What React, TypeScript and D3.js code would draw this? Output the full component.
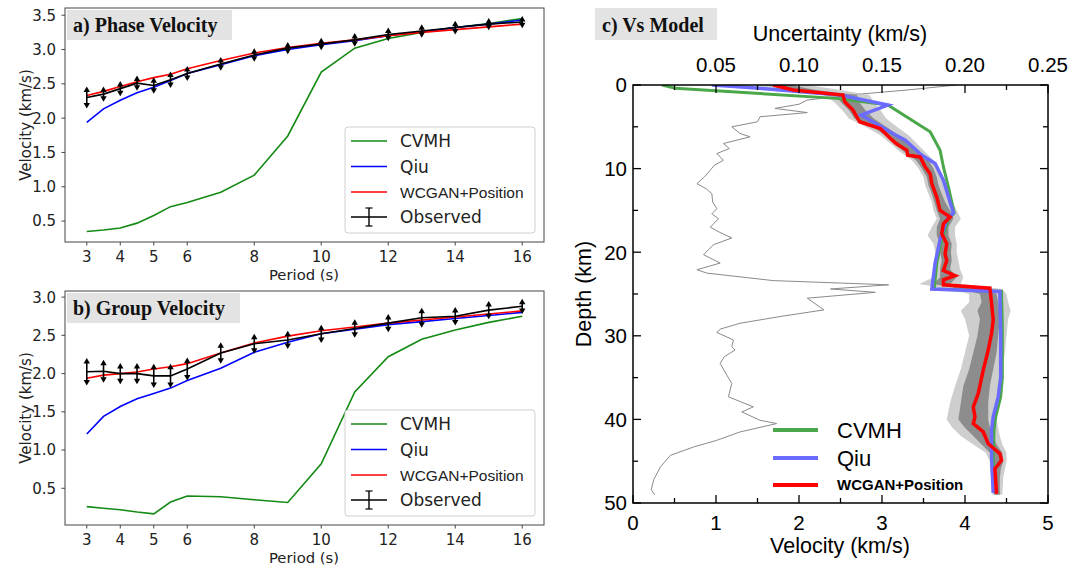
import React from 'react';
import * as d3 from 'd3';

// ---------- Panels a & b data ----------
const periods = [3, 3.5, 4, 4.5, 5, 5.5, 6, 7, 8, 9, 10, 11, 12, 13, 14, 15, 16];
const periodTicks = [3, 4, 5, 6, 8, 10, 12, 14, 16];

const phaseObs = [2.30, 2.35, 2.43, 2.51, 2.475, 2.56, 2.65, 2.79, 2.92, 3.02, 3.08, 3.14, 3.22, 3.27, 3.32, 3.37, 3.40];
const phaseErr = [0.16, 0.11, 0.11, 0.11, 0.12, 0.12, 0.11, 0.1, 0.1, 0.09, 0.09, 0.1, 0.1, 0.1, 0.1, 0.09, 0.09];
const phaseWcgan = [2.33, 2.39, 2.46, 2.53, 2.59, 2.64, 2.72, 2.84, 2.95, 3.03, 3.09, 3.14, 3.2, 3.25, 3.29, 3.33, 3.37];
const phaseQiu = [1.94, 2.135, 2.26, 2.37, 2.45, 2.55, 2.65, 2.78, 2.91, 3.0, 3.07, 3.13, 3.2, 3.26, 3.32, 3.37, 3.43];
const phaseCvmh = [0.347, 0.37, 0.40, 0.47, 0.58, 0.71, 0.77, 0.92, 1.17, 1.74, 2.67, 3.02, 3.16, 3.25, 3.32, 3.38, 3.45];
const phaseTicks = [0.5, 1.0, 1.5, 2.0, 2.5, 3.0, 3.5];

const groupObs = [2.025, 2.03, 2.0, 2.0, 1.97, 1.97, 2.06, 2.27, 2.39, 2.44, 2.52, 2.59, 2.66, 2.73, 2.75, 2.83, 2.88];
const groupErr = [0.18, 0.15, 0.14, 0.14, 0.16, 0.16, 0.15, 0.14, 0.13, 0.12, 0.12, 0.12, 0.12, 0.13, 0.12, 0.12, 0.1];
const groupWcgan = [1.94, 1.98, 2.0, 2.02, 2.06, 2.09, 2.13, 2.27, 2.40, 2.49, 2.56, 2.61, 2.66, 2.70, 2.74, 2.78, 2.82];
const groupQiu = [1.21, 1.44, 1.57, 1.67, 1.74, 1.81, 1.91, 2.07, 2.28, 2.41, 2.52, 2.58, 2.64, 2.68, 2.72, 2.76, 2.80];
const groupCvmh = [0.26, 0.24, 0.22, 0.19, 0.165, 0.32, 0.40, 0.39, 0.35, 0.315, 0.82, 1.76, 2.22, 2.45, 2.57, 2.67, 2.75];
const groupTicks = [0.5, 1.0, 1.5, 2.0, 2.5, 3.0];

// ---------- Panel c data: [depth km, velocity km/s] ----------
const cvmhVs = [[0, 0.35], [0.4, 0.51], [1.6, 2.45], [2.4, 3.07], [5.6, 3.58], [7.8, 3.70], [9.8, 3.74], [12.2, 3.8], [15.3, 3.87], [16.1, 3.8], [18.5, 3.72], [21.3, 3.66], [24.4, 3.63], [24.7, 4.44], [29, 4.45], [35, 4.45], [37.3, 4.43], [39.7, 4.37], [41.3, 4.35], [44.5, 4.34], [48.8, 4.36]];
const qiuVs = [[0, 0.95], [0.4, 1.53], [1.2, 2.49], [2.4, 3.07], [3.6, 2.75], [5.8, 3.13], [6.6, 3.28], [8.4, 3.48], [9.4, 3.64], [11.4, 3.74], [15.3, 3.86], [16.1, 3.78], [18.5, 3.70], [21.3, 3.64], [24.4, 3.60], [24.7, 4.42], [29.3, 4.43], [35, 4.43], [37.3, 4.40], [39.7, 4.34], [41.3, 4.32], [44.5, 4.32], [48.8, 4.34]];
const wcganVs = [[0, 1.69], [0.6, 1.93], [1.2, 2.53], [2.0, 2.55], [3.0, 2.65], [4.4, 2.73], [5.2, 2.98], [6.2, 3.08], [7.0, 3.17], [7.8, 3.30], [8.4, 3.31], [8.6, 3.46], [9.8, 3.52], [10.6, 3.58], [11.8, 3.60], [13.4, 3.66], [15.0, 3.70], [15.8, 3.82], [16.6, 3.74], [17.8, 3.72], [19.0, 3.78], [20.2, 3.76], [21.0, 3.78], [22.2, 3.74], [22.8, 3.88], [23.3, 3.74], [23.9, 3.74], [24.3, 4.30], [26.1, 4.32], [28.1, 4.34], [29.7, 4.32], [31.7, 4.28], [34.1, 4.22], [36.9, 4.16], [38.5, 4.10], [39.7, 4.12], [40.5, 4.10], [41.5, 4.22], [42.9, 4.28], [44.1, 4.42], [44.9, 4.44], [45.9, 4.36], [48.9, 4.38]];
// ensemble envelope: [depth, outerLo, innerLo, innerHi, outerHi]
const ensembleBand = [
  [0, 1.45, 1.6, 1.9, 2.1], [0.6, 1.8, 1.9, 2.2, 2.5], [1.2, 2.3, 2.45, 2.7, 2.85], [2, 2.42, 2.5, 2.72, 2.9],
  [3, 2.52, 2.6, 2.8, 2.98], [4, 2.6, 2.67, 2.9, 3.05], [5, 2.8, 2.88, 3.05, 3.18], [6, 2.98, 3.04, 3.2, 3.32],
  [7, 3.1, 3.14, 3.3, 3.42], [8, 3.22, 3.27, 3.42, 3.52], [9, 3.36, 3.41, 3.56, 3.62], [10, 3.44, 3.48, 3.62, 3.68],
  [11, 3.5, 3.54, 3.66, 3.72], [12, 3.52, 3.56, 3.68, 3.76], [13, 3.56, 3.6, 3.72, 3.8], [14, 3.6, 3.63, 3.76, 3.85],
  [15, 3.62, 3.66, 3.82, 3.9], [16, 3.66, 3.7, 3.86, 3.95], [17, 3.6, 3.66, 3.8, 3.88], [18, 3.55, 3.66, 3.8, 3.88],
  [19, 3.62, 3.7, 3.84, 3.9], [20, 3.64, 3.7, 3.83, 3.9], [21, 3.66, 3.72, 3.84, 3.92], [22, 3.64, 3.7, 3.82, 3.94],
  [23, 3.62, 3.7, 3.9, 3.98], [23.8, 3.45, 3.62, 3.82, 3.95], [24.4, 3.8, 3.95, 4.3, 4.45], [25, 4.05, 4.18, 4.38, 4.5],
  [26, 4.05, 4.2, 4.4, 4.52], [27, 3.95, 4.15, 4.42, 4.55], [28, 4.0, 4.18, 4.42, 4.52], [30, 4.05, 4.15, 4.4, 4.5],
  [32, 4.0, 4.1, 4.38, 4.48], [34, 3.95, 4.05, 4.34, 4.45], [36, 3.88, 3.98, 4.3, 4.42], [38, 3.82, 3.95, 4.28, 4.4],
  [40, 3.78, 3.92, 4.28, 4.38], [41, 3.85, 4.0, 4.3, 4.4], [42, 3.95, 4.1, 4.34, 4.42], [43, 4.1, 4.2, 4.38, 4.45],
  [44, 4.25, 4.3, 4.45, 4.5], [45, 4.3, 4.34, 4.46, 4.5], [46, 4.3, 4.33, 4.43, 4.48], [47, 4.32, 4.34, 4.42, 4.46],
  [49, 4.33, 4.35, 4.42, 4.45],
];
// uncertainty profile: [depth km, uncertainty km/s]
const uncertainty = [[0, 0.195], [0.6, 0.165], [1.2, 0.13], [1.8, 0.105], [2.3, 0.1], [2.8, 0.0855], [3.3, 0.105], [3.8, 0.0765], [4.4, 0.075], [5.0, 0.0595], [5.8, 0.0645], [6.2, 0.0705], [7.0, 0.0545], [7.6, 0.058], [8.2, 0.0505], [9.0, 0.0545], [9.6, 0.049], [10.2, 0.0465], [11.0, 0.043], [11.8, 0.0385], [12.4, 0.044], [13.0, 0.0475], [14.0, 0.048], [14.8, 0.0505], [15.4, 0.0475], [16.0, 0.0515], [17.0, 0.0465], [17.6, 0.052], [18.3, 0.0595], [19.1, 0.0485], [20.3, 0.0425], [21.3, 0.0525], [22.1, 0.0385], [22.5, 0.0445], [23.4, 0.0845], [23.9, 0.154], [24.4, 0.119], [24.8, 0.146], [25.5, 0.105], [26.9, 0.115], [27.7, 0.0885], [28.5, 0.0645], [29.2, 0.0525], [29.6, 0.0505], [30.5, 0.0605], [31.3, 0.0595], [31.7, 0.0615], [32.5, 0.055], [33.3, 0.0525], [34.7, 0.0565], [35.7, 0.0595], [37.3, 0.0575], [38.5, 0.0725], [39.1, 0.0655], [40.1, 0.0765], [40.5, 0.0865], [41.5, 0.0645], [42.5, 0.0505], [43.3, 0.0365], [44.3, 0.0225], [45.7, 0.0165], [47.2, 0.0125], [48.4, 0.011], [49.0, 0.013]];

const depthTicks = [0, 10, 20, 30, 40, 50];
const depthMinor = [5, 15, 25, 35, 45];
const vsTicks = [0, 1, 2, 3, 4, 5];
const vsMinor = [0.5, 1.5, 2.5, 3.5, 4.5];
const uncTicks = [0.05, 0.10, 0.15, 0.20, 0.25];
const uncMinor = [0.025, 0.075, 0.125, 0.175, 0.225];

const DJ = 'DejaVu Sans, sans-serif';
const AR = 'Liberation Sans, Arial, sans-serif';
const SERIF = 'Liberation Serif, Times New Roman, serif';

function Arrow({ x, y, dir }: { x: number; y: number; dir: number }) {
  const h = 5.5, w = 3.2;
  const d = `M${x},${y} L${x - w},${y - dir * h} L${x + w},${y - dir * h} Z`;
  return <path d={d} fill="#000" />;
}

function DispersionPanel(props: {
  top: number; bottom: number; domain: [number, number]; ticks: number[];
  obs: number[]; err: number[]; wc: number[]; qiu: number[]; cvmh: number[];
  title: string; titleW: number; legendTop: number;
}) {
  const { top, bottom, domain, ticks, obs, err, wc, qiu, cvmh, title, titleW, legendTop } = props;
  const left = 65, right = 544;
  const x = d3.scaleLinear().domain([2.35, 16.65]).range([left, right]);
  const y = d3.scaleLinear().domain(domain).range([bottom, top]);
  const line = (vals: number[]) =>
    d3.line<number>().x((_, i) => x(periods[i])).y((v) => y(v))(vals) as string;
  const lx0 = 351, lx1 = 387, ltx = 400;
  const ly = [legendTop + 14, legendTop + 39.5, legendTop + 65, legendTop + 90];
  return (
    <g>
      <defs>
        <clipPath id={`clip${top}`}>
          <rect x={left} y={top} width={right - left} height={bottom - top} />
        </clipPath>
      </defs>
      <g clipPath={`url(#clip${top})`}>
        <path d={line(cvmh)} fill="none" stroke="#138a13" strokeWidth={1.6} />
        <path d={line(qiu)} fill="none" stroke="#0000ff" strokeWidth={1.6} />
        <path d={line(wc)} fill="none" stroke="#ff0000" strokeWidth={1.6} />
        <path d={line(obs)} fill="none" stroke="#000" strokeWidth={1.6} />
        {periods.map((p, i) => {
          const y0 = y(obs[i] + err[i]);
          const y1 = y(obs[i] - err[i]);
          return (
            <g key={i}>
              <line x1={x(p)} x2={x(p)} y1={y0 + 3} y2={y1 - 3} stroke="#000" strokeWidth={1.6} />
              <Arrow x={x(p)} y={y0} dir={-1} />
              <Arrow x={x(p)} y={y1} dir={1} />
            </g>
          );
        })}
      </g>
      <rect x={left} y={top} width={right - left} height={bottom - top} fill="none" stroke="#444" strokeWidth={1} />
      {ticks.map((t) => (
        <g key={t}>
          <line x1={left - 3.5} x2={left} y1={y(t)} y2={y(t)} stroke="#444" />
          <text x={56} y={y(t)} dy="0.36em" textAnchor="end" fontFamily={DJ} fontSize={15} fill="#222">
            {t.toFixed(1)}
          </text>
        </g>
      ))}
      {periodTicks.map((t) => (
        <g key={t}>
          <line x1={x(t)} x2={x(t)} y1={bottom} y2={bottom + 3.5} stroke="#444" />
          <text x={x(t)} y={bottom + 19.5} textAnchor="middle" fontFamily={DJ} fontSize={15} fill="#222">
            {t}
          </text>
        </g>
      ))}
      <text x={304} y={bottom + 37.5} textAnchor="middle" fontFamily={DJ} fontSize={14.8} fill="#222">Period (s)</text>
      <text transform={`translate(31,${(top + bottom) / 2}) rotate(-90)`} textAnchor="middle" fontFamily={DJ} fontSize={15} fill="#222">
        Velocity (km/s)
      </text>
      <rect x={67} y={top + 2} width={titleW} height={30} fill="#e3e3e3" />
      <text x={73} y={top + 24} fontFamily={SERIF} fontWeight="bold" fontSize={20} fill="#111">{title}</text>
      {/* legend */}
      <rect x={345} y={legendTop} width={190} height={106} rx={3} fill="#fff" fillOpacity={0.85} stroke="#d0d0d0" strokeWidth={1} />
      <line x1={lx0} x2={lx1} y1={ly[0]} y2={ly[0]} stroke="#138a13" strokeWidth={1.6} />
      <text x={ltx} y={ly[0]} dy="0.36em" fontFamily={DJ} fontSize={17} fill="#222">CVMH</text>
      <line x1={lx0} x2={lx1} y1={ly[1]} y2={ly[1]} stroke="#0000ff" strokeWidth={1.6} />
      <text x={ltx} y={ly[1]} dy="0.36em" fontFamily={DJ} fontSize={17} fill="#222">Qiu</text>
      <line x1={lx0} x2={lx1} y1={ly[2]} y2={ly[2]} stroke="#ff0000" strokeWidth={1.6} />
      <text x={ltx} y={ly[2]} dy="0.36em" fontFamily={AR} fontSize={15.5} fill="#222">WCGAN+Position</text>
      <line x1={lx0} x2={lx1} y1={ly[3]} y2={ly[3]} stroke="#000" strokeWidth={1.6} />
      <line x1={369} x2={369} y1={ly[3] - 9} y2={ly[3] + 9} stroke="#000" strokeWidth={1.4} />
      <line x1={365.5} x2={372.5} y1={ly[3] - 9} y2={ly[3] - 9} stroke="#000" strokeWidth={1.2} />
      <line x1={365.5} x2={372.5} y1={ly[3] + 9} y2={ly[3] + 9} stroke="#000" strokeWidth={1.2} />
      <text x={ltx} y={ly[3]} dy="0.36em" fontFamily={DJ} fontSize={17} fill="#222">Observed</text>
    </g>
  );
}

function VsPanel() {
  const left = 633, right = 1048, top = 85, bottom = 503;
  const xv = d3.scaleLinear().domain([0, 5]).range([left, right]);
  const xu = d3.scaleLinear().domain([0, 0.25]).range([left, right]);
  const yd = d3.scaleLinear().domain([0, 50]).range([top, bottom]);
  const prof = d3.line<number[]>().x((d) => xv(d[1])).y((d) => yd(d[0]));
  const uline = d3.line<number[]>().x((d) => xu(d[1])).y((d) => yd(d[0]));
  const outer = d3.area<number[]>().y((d) => yd(d[0])).x0((d) => xv(d[1])).x1((d) => xv(d[4]));
  const inner = d3.area<number[]>().y((d) => yd(d[0])).x0((d) => xv(d[2])).x1((d) => xv(d[3]));
  const majL = 8, minL = 5;
  return (
    <g>
      <defs>
        <clipPath id="clipc">
          <rect x={left} y={top} width={right - left} height={bottom - top} />
        </clipPath>
      </defs>
      <g clipPath="url(#clipc)">
        <path d={uline(uncertainty) as string} fill="none" stroke="#8a8a8a" strokeWidth={1} />
        <path d={outer(ensembleBand) as string} fill="#bdbdbd" opacity={0.75} />
        <path d={inner(ensembleBand) as string} fill="#7d7d7d" opacity={0.8} />
        <path d={prof(cvmhVs) as string} fill="none" stroke="#4aa84a" strokeWidth={3} />
        <path d={prof(qiuVs) as string} fill="none" stroke="#6b6bff" strokeWidth={3.5} />
        <path d={prof(wcganVs) as string} fill="none" stroke="#ff0000" strokeWidth={3.5} />
      </g>
      <rect x={left} y={top} width={right - left} height={bottom - top} fill="none" stroke="#000" strokeWidth={1.5} />
      {depthTicks.map((t) => (
        <g key={t}>
          <line x1={left} x2={left + majL} y1={yd(t)} y2={yd(t)} stroke="#000" strokeWidth={1.3} />
          <line x1={right - majL} x2={right} y1={yd(t)} y2={yd(t)} stroke="#000" strokeWidth={1.3} />
          <text x={627} y={yd(t)} dy="0.36em" textAnchor="end" fontFamily={AR} fontSize={20.5} fill="#000">{t}</text>
        </g>
      ))}
      {depthMinor.map((t) => (
        <g key={t}>
          <line x1={left} x2={left + minL} y1={yd(t)} y2={yd(t)} stroke="#000" strokeWidth={1.3} />
          <line x1={right - minL} x2={right} y1={yd(t)} y2={yd(t)} stroke="#000" strokeWidth={1.3} />
        </g>
      ))}
      {vsTicks.map((t) => (
        <g key={t}>
          <line x1={xv(t)} x2={xv(t)} y1={bottom} y2={bottom - majL} stroke="#000" strokeWidth={1.3} />
          <text x={xv(t)} y={530} textAnchor="middle" fontFamily={AR} fontSize={20.5} fill="#000">{t}</text>
        </g>
      ))}
      {vsMinor.map((t) => (
        <line key={t} x1={xv(t)} x2={xv(t)} y1={bottom} y2={bottom - minL} stroke="#000" strokeWidth={1.3} />
      ))}
      {uncTicks.map((t) => (
        <g key={t}>
          <line x1={xu(t)} x2={xu(t)} y1={top} y2={top + majL} stroke="#000" strokeWidth={1.3} />
          <text x={xu(t)} y={72} textAnchor="middle" fontFamily={AR} fontSize={20.5} fill="#000">{t.toFixed(2)}</text>
        </g>
      ))}
      {uncMinor.map((t) => (
        <line key={t} x1={xu(t)} x2={xu(t)} y1={top} y2={top + minL} stroke="#000" strokeWidth={1.3} />
      ))}
      <text x={840} y={41} textAnchor="middle" fontFamily={AR} fontSize={21.5} fill="#000">Uncertainty (km/s)</text>
      <text x={840} y={553} textAnchor="middle" fontFamily={AR} fontSize={21.5} fill="#000">Velocity (km/s)</text>
      <text transform="translate(591,294) rotate(-90)" textAnchor="middle" fontFamily={AR} fontSize={21.5} fill="#000">Depth (km)</text>
      <rect x={595} y={8} width={122} height={32} fill="#e3e3e3" />
      <text x={602} y={32} fontFamily={SERIF} fontWeight="bold" fontSize={20} fill="#111">c) Vs Model</text>
      {/* legend */}
      <line x1={773} x2={818} y1={430} y2={430} stroke="#4aa84a" strokeWidth={4} />
      <text x={837} y={430} dy="0.36em" fontFamily={AR} fontSize={22} fill="#000">CVMH</text>
      <line x1={773} x2={818} y1={458} y2={458} stroke="#6b6bff" strokeWidth={4} />
      <text x={837} y={458} dy="0.36em" fontFamily={AR} fontSize={22} fill="#000">Qiu</text>
      <line x1={773} x2={818} y1={485} y2={485} stroke="#ff0000" strokeWidth={4} />
      <text x={837} y={485} dy="0.36em" fontFamily={AR} fontWeight="bold" fontSize={15} fill="#000">WCGAN+Position</text>
    </g>
  );
}

export default function App() {
  return (
    <svg width={1089} height={565} style={{ position: 'absolute', left: 0, top: 0, background: '#fff' }}>
      <rect x={0} y={0} width={1089} height={565} fill="#fff" />
      <DispersionPanel top={8} bottom={242} domain={[0.195, 3.605]} ticks={phaseTicks}
        obs={phaseObs} err={phaseErr} wc={phaseWcgan} qiu={phaseQiu} cvmh={phaseCvmh}
        title="a) Phase Velocity" titleW={165} legendTop={127} />
      <DispersionPanel top={291} bottom={525} domain={[0.02, 3.08]} ticks={groupTicks}
        obs={groupObs} err={groupErr} wc={groupWcgan} qiu={groupQiu} cvmh={groupCvmh}
        title="b) Group Velocity" titleW={173} legendTop={410} />
      <VsPanel />
    </svg>
  );
}
